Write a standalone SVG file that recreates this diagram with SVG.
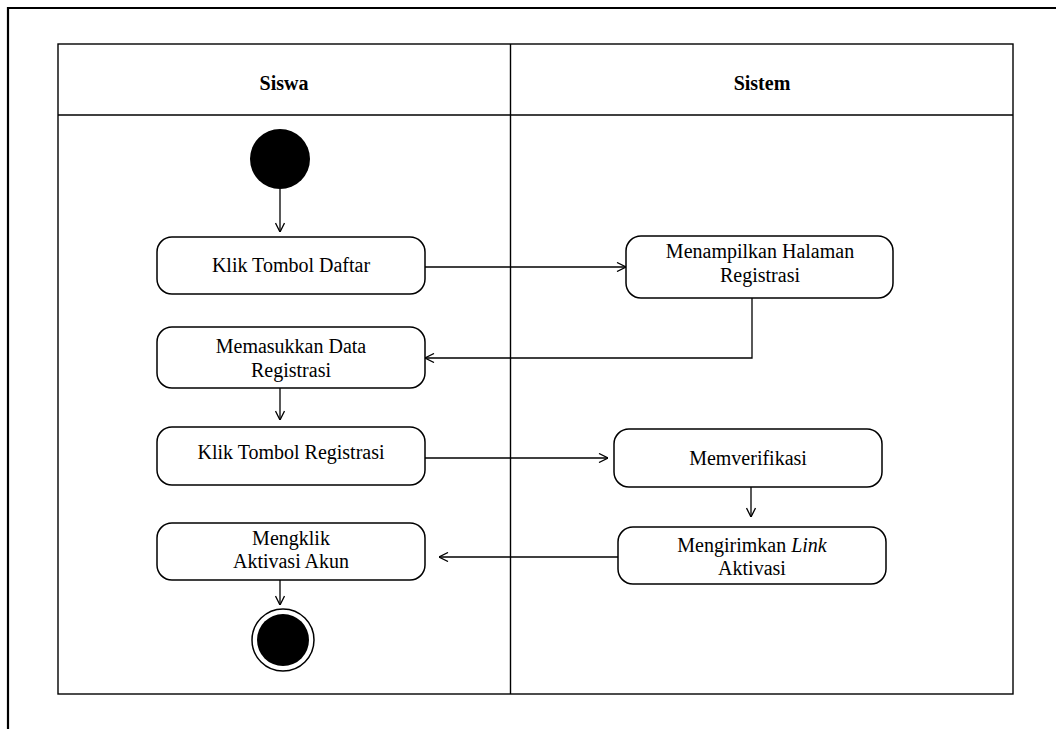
<svg xmlns="http://www.w3.org/2000/svg" width="1056" height="729" viewBox="0 0 1056 729">
<style>
text{font-size:20px;fill:#000;text-anchor:middle}
.h{font-weight:bold}
.box{fill:#fff;stroke:#000;stroke-width:1.5}
.ln{fill:none;stroke:#000;stroke-width:1.3}
.c{fill:none;stroke:#000;stroke-width:1.4}
</style>
<defs>
<marker id="arr" viewBox="0 0 10 10" refX="10" refY="5" markerWidth="10" markerHeight="10" markerUnits="userSpaceOnUse" orient="auto">
<path d="M1,0.5 L10,5 L1,9.5" fill="none" stroke="#000" stroke-width="1.3"/>
</marker>
</defs>
<rect width="1056" height="729" fill="#fff"/>
<g font-family="Liberation Serif, serif">
<g id="frame">
<path d="M8,729 V8 H1056" fill="none" stroke="#000" stroke-width="2.2"/>
</g>
<g id="swimlanes">
<rect x="58" y="44" width="955" height="650" class="c"/>
<line x1="58" y1="115" x2="1013" y2="115" class="c"/>
<line x1="510.5" y1="44" x2="510.5" y2="694" class="c"/>
<text x="284" y="90" class="h">Siswa</text>
<text x="762" y="90" class="h">Sistem</text>
</g>
<g id="connectors">
<line x1="280" y1="189" x2="280" y2="232" class="ln" marker-end="url(#arr)"/>
<line x1="425" y1="267" x2="626" y2="267" class="ln" marker-end="url(#arr)"/>
<polyline points="752,298 752,358 425,358" class="ln" marker-end="url(#arr)"/>
<line x1="280" y1="388" x2="280" y2="420" class="ln" marker-end="url(#arr)"/>
<line x1="425" y1="458" x2="608" y2="458" class="ln" marker-end="url(#arr)"/>
<line x1="751" y1="487" x2="751" y2="517" class="ln" marker-end="url(#arr)"/>
<line x1="618" y1="557" x2="439" y2="557" class="ln" marker-end="url(#arr)"/>
<line x1="280" y1="580" x2="280" y2="605" class="ln" marker-end="url(#arr)"/>
</g>
<g id="start">
<circle cx="280" cy="159" r="30" fill="#000"/>
</g>
<g id="klik-daftar">
<rect x="157" y="237" width="268" height="57" rx="15" class="box"/>
<text x="291" y="272">Klik Tombol Daftar</text>
</g>
<g id="menampilkan">
<rect x="626" y="236" width="267" height="62" rx="15" class="box"/>
<text x="760" y="258">Menampilkan Halaman</text>
<text x="760" y="282">Registrasi</text>
</g>
<g id="memasukkan">
<rect x="157" y="327" width="268" height="61" rx="15" class="box"/>
<text x="291" y="353">Memasukkan Data</text>
<text x="291" y="377">Registrasi</text>
</g>
<g id="klik-registrasi">
<rect x="157" y="427" width="268" height="58" rx="15" class="box"/>
<text x="291" y="459">Klik Tombol Registrasi</text>
</g>
<g id="memverifikasi">
<rect x="614" y="429" width="268" height="58" rx="15" class="box"/>
<text x="748" y="465">Memverifikasi</text>
</g>
<g id="mengirimkan">
<rect x="618" y="527" width="268" height="57" rx="15" class="box"/>
<text x="752" y="552">Mengirimkan <tspan font-style="italic">Link</tspan></text>
<text x="752" y="575">Aktivasi</text>
</g>
<g id="mengklik">
<rect x="157" y="523" width="268" height="57" rx="15" class="box"/>
<text x="291" y="545">Mengklik</text>
<text x="291" y="568">Aktivasi Akun</text>
</g>
<g id="end">
<circle cx="283" cy="640" r="31" fill="#fff" stroke="#000" stroke-width="1.5"/>
<circle cx="283" cy="640" r="26" fill="#000"/>
</g>
</g>
</svg>
